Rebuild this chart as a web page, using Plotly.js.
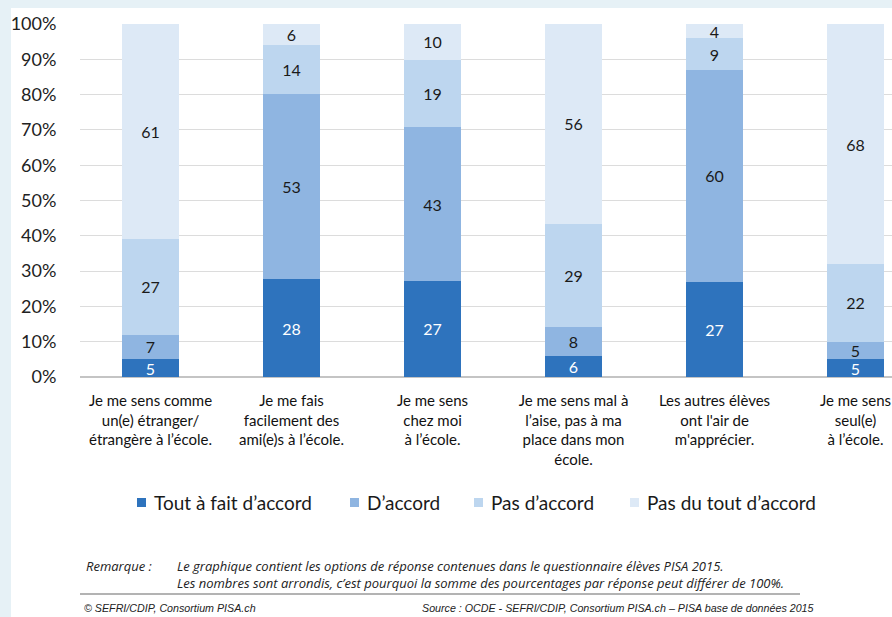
<!DOCTYPE html>
<html>
<head>
<meta charset="utf-8">
<script src="https://cdn.plot.ly/plotly-3.0.1.min.js"></script>
<style>
  html, body { margin:0; padding:0; background:#e6f1f6; }
  #bgwhite { position:absolute; left:11px; top:8px; width:881px; height:609px; background:#ffffff; }
  #chart { position:absolute; left:0; top:0; width:892px; height:617px; }
</style>
</head>
<body>
<div id="bgwhite"></div>
<div id="chart"></div>
<script>
// ---- data ----
const categories = [
  "Je me sens comme<br>un(e) étranger/<br>étrangère à l’école.",
  "Je me fais<br>facilement des<br>ami(e)s à l’école.",
  "Je me sens<br>chez moi<br>à l’école.",
  "Je me sens mal à<br>l’aise, pas à ma<br>place dans mon<br>école.",
  "Les autres élèves<br>ont l'air de<br>m'apprécier.",
  "Je me sens<br>seul(e)<br>à l’école."
];
const seriesNames = ["Tout à fait d’accord", "D’accord", "Pas d’accord", "Pas du tout d’accord"];
const toutAFait   = [5, 28, 27, 6, 27, 5];
const dAccord     = [7, 53, 43, 8, 60, 5];
const pasDAccord  = [27, 14, 19, 29, 9, 22];
const pasDuTout   = [61, 6, 10, 56, 4, 68];
const yTicks = [0,10,20,30,40,50,60,70,80,90,100];
const yTickLabels = ["0%","10%","20%","30%","40%","50%","60%","70%","80%","90%","100%"];

// ---- style ----
const colors = ["#2e73bd", "#8fb5e1", "#bdd6ef", "#dde9f6"];
const textColors = ["#ffffff", "#1a1a1a", "#1a1a1a", "#1a1a1a"];
const font = "Lato, 'Open Sans', sans-serif";
const legendStartPx = [137, 350, 474, 630];

const W = 892, H = 617;
const mL = 80, mR = 0, mT = 24, mB = 240;
const pw = W - mL - mR, ph = H - mT - mB;
const px = x => (x - mL) / pw;
const py = y => (H - mB - y) / ph;

const xIdx = categories.map((_, i) => i);
const allSeries = [toutAFait, dAccord, pasDAccord, pasDuTout];
const traces = allSeries.map((vals, k) => ({
  type: "bar",
  name: seriesNames[k],
  x: xIdx,
  y: vals,
  text: vals.map(String),
  textposition: "inside",
  insidetextanchor: "middle",
  textangle: 0,
  constraintext: "none",
  textfont: { family: font, size: 16, color: textColors[k] },
  marker: { color: colors[k], line: { width: 0 } },
  showlegend: false,
  hoverinfo: "skip"
}));

const noteFont = { family: "'Open Sans', sans-serif", size: 13, color: "#222" };
const smallFont = { family: "'Liberation Sans Narrow', 'Liberation Sans', sans-serif", size: 10.7, color: "#222" };
const notes = [
  { text: "<i>Remarque :</i>", x: 84, y: 566, xanchor: "left", yanchor: "middle", f: noteFont },
  { text: "<i>Le graphique contient les options de réponse contenues dans le questionnaire élèves PISA 2015.</i><br>" +
          "<i>Les nombres sont arrondis, c’est pourquoi la somme des pourcentages par réponse peut différer de 100%.</i>",
    x: 175, y: 574, xanchor: "left", yanchor: "middle", f: noteFont },
  { text: "<i>© SEFRI/CDIP, Consortium PISA.ch</i>", x: 82, y: 608, xanchor: "left", yanchor: "middle", f: smallFont },
  { text: "<i>Source : OCDE - SEFRI/CDIP, Consortium PISA.ch – PISA base de données 2015</i>", x: 816, y: 608, xanchor: "right", yanchor: "middle", f: smallFont }
];
const annotations = notes.map(a => ({
  text: a.text, x: px(a.x), y: py(a.y), xref: "paper", yref: "paper",
  xanchor: a.xanchor, yanchor: a.yanchor, align: "left", showarrow: false, font: a.f
}));
// legend entries built from series names & colours
const shapes = [
  { type: "line", xref: "paper", yref: "paper", x0: px(80), x1: px(800), y0: py(594), y1: py(594),
    line: { color: "#9a9a9a", width: 1.5 } }
];
seriesNames.forEach((name, k) => {
  const x0 = legendStartPx[k];
  shapes.push({ type: "rect", xref: "paper", yref: "paper",
    x0: px(x0), x1: px(x0 + 9), y0: py(507), y1: py(498),
    line: { width: 0 }, fillcolor: colors[k] });
  annotations.push({ text: name, x: px(x0 + 15), y: py(502.5), xref: "paper", yref: "paper",
    xanchor: "left", yanchor: "middle", showarrow: false,
    font: { family: font, size: 19, color: "#1a1a1a" } });
});

const layout = {
  width: W, height: H,
  margin: { l: mL, r: mR, t: mT, b: mB, pad: 0 },
  paper_bgcolor: "rgba(0,0,0,0)",
  plot_bgcolor: "rgba(0,0,0,0)",
  barmode: "stack",
  barnorm: "percent",
  bargap: 0.6,
  uniformtext: { mode: "show", minsize: 16 },
  showlegend: false,
  xaxis: {
    range: [-0.5, (W - mL) / 141 - 0.5],
    tickvals: xIdx, ticktext: categories,
    ticks: "outside", ticklen: 10, tickcolor: "rgba(0,0,0,0)",
    tickfont: { family: font, size: 15, color: "#111" },
    showgrid: false, zeroline: false, showline: false, fixedrange: true
  },
  yaxis: {
    range: [0, 100],
    tickvals: yTicks, ticktext: yTickLabels,
    ticks: "outside", ticklen: 19, tickcolor: "rgba(0,0,0,0)",
    tickfont: { family: font, size: 18, color: "#222" },
    showgrid: true, gridcolor: "#dcdcdc", gridwidth: 1,
    zeroline: true, zerolinecolor: "#c4c4c4", zerolinewidth: 1.5,
    showline: false, fixedrange: true
  },
  shapes: shapes,
  annotations: annotations
};

Plotly.newPlot("chart", traces, layout, { displayModeBar: false, staticPlot: true });
</script>
</body>
</html>
